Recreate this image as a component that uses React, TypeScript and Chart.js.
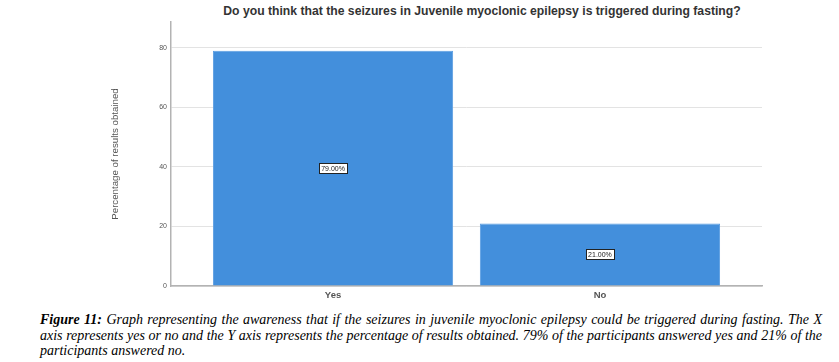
import React, { useEffect, useRef } from "react";
import { Chart, registerables } from "chart.js";

Chart.register(...registerables);

const chartTitle =
  "Do you think that the seizures in Juvenile myoclonic epilepsy is triggered during fasting?";
const categories = ["Yes", "No"];
const percentages = [79, 21];
const valueLabels = ["79.00%", "21.00%"];
const yTicks = [0, 20, 40, 60, 80];
const yAxisTitle = "Percentage of results obtained";
const captionLines = [
  "Graph representing the awareness that if the seizures in  juvenile myoclonic epilepsy could be triggered during fasting. The X",
  "axis represents yes or no and the Y axis represents the percentage of results obtained. 79% of the participants answered yes and 21% of the",
  "participants answered no.",
];

const labelPlugin = {
  id: "valueBoxes",
  afterDatasetsDraw(chart: any) {
    const ctx = chart.ctx;
    const meta = chart.getDatasetMeta(0);
    ctx.save();
    ctx.font = "7px 'Liberation Sans', Arial, sans-serif";
    ctx.textAlign = "center";
    ctx.textBaseline = "middle";
    meta.data.forEach((bar: any, i: number) => {
      const p = bar.getProps(["x", "y", "base"], true);
      const cx = p.x;
      const cy = (p.y + p.base) / 2;
      const text = valueLabels[i];
      const w = ctx.measureText(text).width + 4;
      const h = 10;
      ctx.fillStyle = "#ffffff";
      ctx.fillRect(Math.round(cx - w / 2) + 0.5, Math.round(cy - h / 2) + 0.5, Math.round(w), h);
      ctx.strokeStyle = "#222";
      ctx.lineWidth = 1;
      ctx.strokeRect(Math.round(cx - w / 2) + 0.5, Math.round(cy - h / 2) + 0.5, Math.round(w), h);
      ctx.fillStyle = "#222";
      ctx.fillText(text, cx, cy + 0.5);
    });
    ctx.restore();
  },
};

export default function App() {
  const ref = useRef<HTMLCanvasElement | null>(null);

  useEffect(() => {
    if (!ref.current) return;
    const chart = new Chart(ref.current, {
      type: "bar",
      data: {
        datasets: [
          {
            data: categories.map((c, i) => ({ x: i, y: percentages[i] })),
            backgroundColor: "#438fdc",
            borderColor: "#5a9de2",
            borderWidth: 1,
            categoryPercentage: 0.9,
            barPercentage: 1,
          },
        ],
      },
      plugins: [labelPlugin],
      options: {
        animation: false,
        responsive: false,
        maintainAspectRatio: false,
        layout: { padding: { top: 22, right: 77, left: 0, bottom: 0 } },
        plugins: {
          legend: { display: false },
          tooltip: { enabled: false },
          title: { display: false },
        },
        scales: {
          x: {
            type: "linear",
            offset: false,
            min: -0.607,
            max: 1.607,
            afterBuildTicks: (scale: any) => {
              scale.ticks = categories.map((_, i) => ({ value: i }));
            },
            afterFit: (scale: any) => {
              scale.height = 19;
            },
            ticks: {
              padding: 4,
              color: "#555",
              font: { family: "'Liberation Sans', Arial, sans-serif", size: 9.5, weight: "bold" },
              callback: (v: any) => categories[v] ?? "",
            },
            grid: { display: false, drawTicks: false, offset: false },
            border: { display: true, color: "#b3b3b3", width: 1.5 },
          },
          y: {
            min: 0,
            max: 88.7,
            afterBuildTicks: (scale: any) => {
              scale.ticks = yTicks.map((v) => ({ value: v }));
            },
            afterFit: (scale: any) => {
              scale.width = 171;
            },
            ticks: {
              padding: 4,
              color: "#555",
              font: { family: "'Liberation Sans', Arial, sans-serif", size: 7 },
            },
            grid: { color: "#e3e3e3", lineWidth: 1, drawTicks: false },
            border: { display: true, color: "#b3b3b3", width: 1.5 },
            title: {
              display: true,
              text: yAxisTitle,
              color: "#555",
              font: { family: "'Liberation Sans', Arial, sans-serif", size: 9.7 },
              padding: { top: 110, bottom: 0 },
            },
          },
        },
      },
    } as any);
    return () => chart.destroy();
  }, []);

  return (
    <div
      style={{
        position: "fixed",
        left: 0,
        top: 0,
        width: 839,
        height: 362,
        background: "#fff",
        overflow: "hidden",
      }}
    >
      <div
        style={{
          position: "absolute",
          left: 132,
          top: 3,
          width: 700,
          textAlign: "center",
          fontFamily: "'Liberation Sans', Arial, sans-serif",
          fontWeight: "bold",
          fontSize: 12.2,
          lineHeight: "16px",
          color: "#333",
          whiteSpace: "nowrap",
        }}
      >
        {chartTitle}
      </div>
      <canvas
        ref={ref}
        width={839}
        height={305}
        style={{ position: "absolute", left: 0, top: 0, width: 839, height: 305 }}
      />
      <div
        style={{
          position: "absolute",
          left: 40,
          top: 312,
          width: 782,
          fontFamily: "'Liberation Serif', 'Times New Roman', serif",
          fontStyle: "italic",
          fontSize: 14,
          lineHeight: "15.5px",
          color: "#000",
        }}
      >
        {captionLines.map((line, i) => (
          <div
            key={i}
            style={{
              whiteSpace: "nowrap",
              textAlign: "justify",
              textAlignLast: i < captionLines.length - 1 ? "justify" : "left",
            }}
          >
            {i === 0 ? <b>Figure 11: </b> : null}
            {line}
          </div>
        ))}
      </div>
    </div>
  );
}
